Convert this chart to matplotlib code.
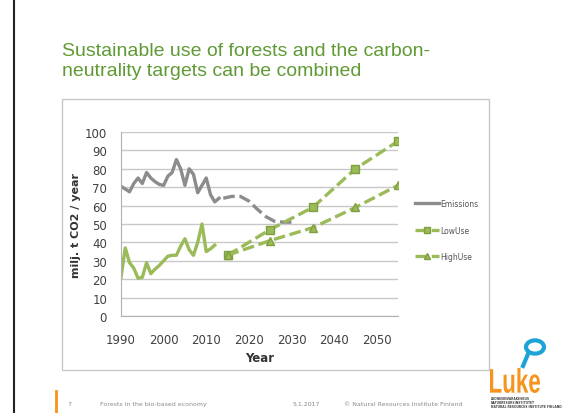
import numpy as np
import matplotlib.pyplot as plt
from matplotlib.patches import Rectangle, Circle, PathPatch
from matplotlib.lines import Line2D
from matplotlib.textpath import TextPath
from matplotlib.font_manager import FontProperties
from matplotlib.transforms import Affine2D, IdentityTransform

# data
hist_years = list(range(1990, 2014))
emissions = [70.5, 69, 67.5, 72, 75, 72, 78, 75, 73, 71.5, 71, 76, 78, 85, 80,
             71, 80, 77, 67, 71, 75, 66, 62, 64]
emis_proj_years = [2014, 2016, 2018, 2020, 2022, 2024, 2026, 2028, 2030]
emis_proj = [64, 65, 65, 62.5, 58, 54, 51.5, 51, 51]

sink_years = list(range(1990, 2013))
sink = [21, 37, 29, 26, 20.5, 21, 29, 23, 25.5, 27.5, 30, 32.5, 33, 33, 38, 42,
        36, 33, 40, 50, 35, 36.5, 38.5]

scen_years = [2015, 2025, 2035, 2045, 2055]
low_use = [33, 47, 59, 80, 95]
high_use = [33, 41, 48, 59, 71]

W, H = 562, 414


def px(x, y):
    return x / W, 1 - y / H


fig = plt.figure(figsize=(5.62, 4.14), dpi=100)
fig.patch.set_facecolor('white')

# slide decorations
fig.add_artist(Line2D([14 / W, 14 / W], [0, 1], color='#222222', lw=1.5))
fig.add_artist(Line2D([56 / W, 56 / W], [0, 1 - 392 / H], color='#f7941d', lw=2))
fig.add_artist(Rectangle(px(62, 371), 427 / W, 271 / H, fill=False,
                         edgecolor='#c8c8c8', lw=1))

green_title = '#609a34'
fig.text(*px(62, 51), 'Sustainable use of forests and the carbon-', color=green_title,
         fontsize=14, family='Liberation Sans', va='center', ha='left')
fig.text(*px(62, 71), 'neutrality targets can be combined', color=green_title,
         fontsize=14, family='Liberation Sans', va='center', ha='left')

ax = fig.add_axes([121 / W, 97 / H, 277 / W, 184 / H])
grey = '#8c8c8c'
green = '#9bbb59'

ax.plot(hist_years, emissions, color=grey, lw=2.4, solid_joinstyle='round', label='Emissions')
ax.plot(emis_proj_years, emis_proj, color=grey, lw=2.4, ls=(0, (3.5, 1.4)))
ax.plot(sink_years, sink, color=green, lw=2.4, solid_joinstyle='round')
ax.plot(scen_years, low_use, color=green, lw=2.4, ls=(0, (3.5, 1.4)), marker='s',
        markersize=5.5, markerfacecolor=green, markeredgecolor='#7f9f40', label='LowUse')
ax.plot(scen_years, high_use, color=green, lw=2.4, ls=(0, (3.5, 1.4)), marker='^',
        markersize=5.5, markerfacecolor=green, markeredgecolor='#7f9f40', label='HighUse')

ax.set_xlim(1990, 2055)
ax.set_ylim(0, 100)
ax.set_xticks(range(1990, 2051, 10))
ax.set_yticks(range(0, 101, 10))
ax.grid(axis='y', color='#c8c8c8', lw=1)
ax.set_axisbelow(True)
for s in ['top', 'right']:
    ax.spines[s].set_visible(False)
for s in ['left', 'bottom']:
    ax.spines[s].set_color('#b0b0b0')
ax.tick_params(length=0, labelsize=8.5, labelcolor='#404040')
ax.tick_params(axis='x', pad=12)
ax.tick_params(axis='y', pad=10)
ax.set_xlabel('Year', fontsize=8.5, fontweight='bold', color='#333333', labelpad=4)
ax.set_ylabel('milj. t CO2 / year', fontsize=8, fontweight='bold', color='#333333', labelpad=3)

ax.legend(loc='center left', bbox_to_anchor=(px(408, 231)), bbox_transform=fig.transFigure,
          frameon=False, fontsize=5.5, handlelength=3.2, handletextpad=0.15,
          labelspacing=2.3, markerscale=0.8, labelcolor='#555555')

# footer
fcol = '#8a8a8a'
fig.text(*px(67, 405), '7', fontsize=4.5, color=fcol, va='center')
fig.text(*px(100, 405), 'Forests in the bio-based economy', fontsize=4.5, color=fcol, va='center')
fig.text(*px(293, 405), '5.1.2017', fontsize=4.5, color=fcol, va='center')
fig.text(*px(344, 405), '\u00a9 Natural Resources Institute Finland', fontsize=4.5,
         color=fcol, va='center')

# Luke logo: bold text squeezed to the box it takes on the slide
tp = TextPath((0, 0), 'Luke', size=1, prop=FontProperties(family='Liberation Sans', weight='bold'))
ext = tp.get_extents()
sx = 50 / ext.width
sy = 25 / ext.height
tr = Affine2D().translate(-ext.x0, -ext.y0).scale(sx, sy).translate(490, H - 394) + IdentityTransform()
fig.add_artist(PathPatch(tp, transform=tr, facecolor='#f7941d', edgecolor='none'))
fig.add_artist(Circle(px(535, 348), 9 / W, transform=fig.transFigure, fill=False,
                      edgecolor='#1ea3d6', lw=3))
fig.add_artist(Line2D([528 / W, 523 / W], [1 - 355 / H, 1 - 367 / H], color='#1ea3d6', lw=3))
for i, t in enumerate(['LUONNONVARAKESKUS', 'NATURRESURSINSTITUTET', 'NATURAL RESOURCES INSTITUTE FINLAND']):
    fig.text(*px(491, 399 + i * 4), t, fontsize=2.2, fontweight='bold', color='#444444', va='center')

fig.savefig('out.png', dpi=100)
